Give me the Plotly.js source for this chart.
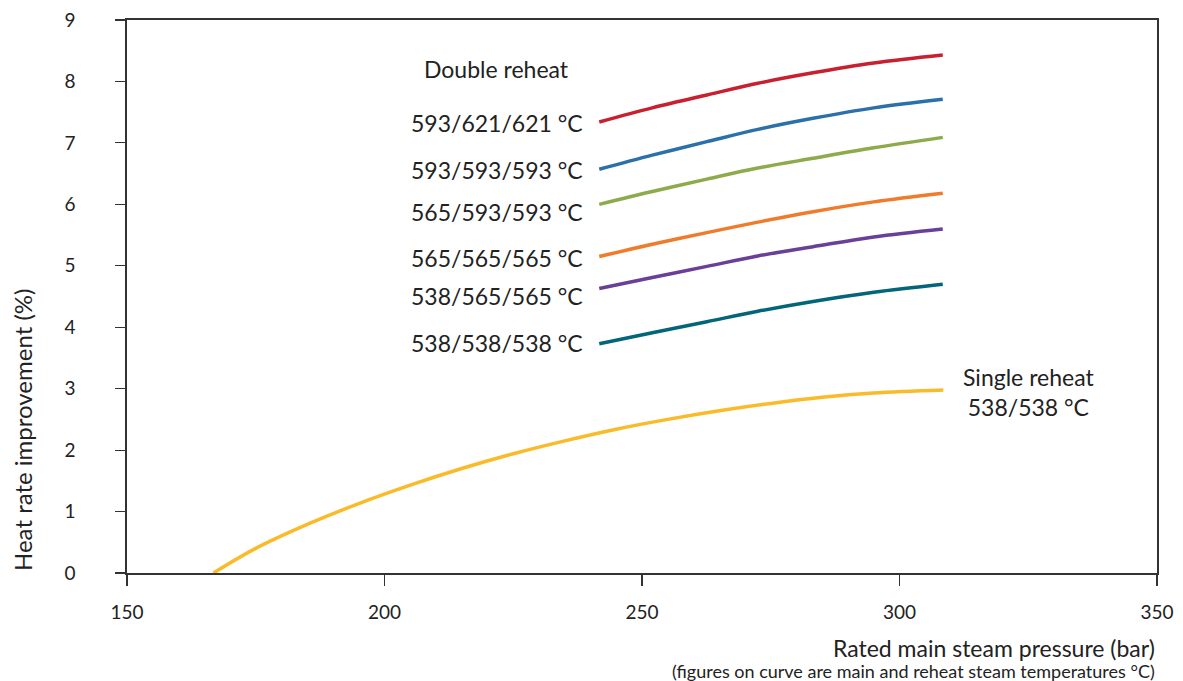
<!DOCTYPE html>
<html><head><meta charset="utf-8">
<script src="https://cdn.plot.ly/plotly-3.0.1.min.js"></script>
<style>html,body{margin:0;padding:0;background:#fff}#chart{width:1183px;height:681px}</style>
</head><body><div id="chart"></div>
<script>
// Data
const pressureDouble = [241.7, 252, 262.6, 272.5, 283.2, 295, 308.4];
const r593_621_621 = [7.34, 7.57, 7.78, 7.97, 8.14, 8.30, 8.43];
const r593_593_593 = [6.57, 6.80, 7.02, 7.22, 7.40, 7.57, 7.71];
const r565_593_593 = [6.00, 6.21, 6.41, 6.59, 6.75, 6.92, 7.09];
const r565_565_565 = [5.15, 5.35, 5.54, 5.71, 5.88, 6.04, 6.18];
const r538_565_565 = [4.63, 4.81, 4.99, 5.16, 5.31, 5.47, 5.60];
const r538_538_538 = [3.73, 3.91, 4.09, 4.26, 4.42, 4.57, 4.70];
const pressureSingle = [166.8, 175, 185, 195, 205, 215, 225, 235, 245, 255, 265, 275, 285, 295, 308.5];
const r538_538 = [0.0, 0.40, 0.79, 1.13, 1.43, 1.70, 1.94, 2.15, 2.34, 2.50, 2.64, 2.76, 2.86, 2.93, 2.98];
const xTicks = [150, 200, 250, 300, 350];
const yTicks = [0,1,2,3,4,5,6,7,8,9];
const doubleLabels = ['593/621/621 °C','593/593/593 °C','565/593/593 °C','565/565/565 °C','538/565/565 °C','538/538/538 °C'];
const labelY = [7.32, 6.56, 5.88, 5.13, 4.51, 3.74];
const doubleSeries = [r593_621_621, r593_593_593, r565_593_593, r565_565_565, r538_565_565, r538_538_538];
const colors = ['#c8202f','#2b70a8','#8dab4b','#f07b2b','#6a3f98','#03657a'];

const FONT = 'Lato, "Noto Sans", sans-serif';
const traces = doubleSeries.map((s,i)=>({
  x: pressureDouble, y: s, mode:'lines', line:{color:colors[i], width:3.5, shape:'spline', smoothing:1}, name: doubleLabels[i]
}));
traces.push({x: pressureSingle, y: r538_538, mode:'lines', line:{color:'#f9bb2a', width:3.5, shape:'spline', smoothing:1}, name:'Single reheat 538/538 °C'});

const annotations = doubleLabels.map((t,i)=>({
  x: pressureDouble[0], y: labelY[i], xref:'x', yref:'y', text: t, showarrow:false,
  xanchor:'right', yanchor:'middle', xshift:-14, font:{family:FONT, size:23, color:'#222'}
}));
annotations.push({x:221.8, y:8.2, xref:'x', yref:'y', text:'Double reheat', showarrow:false, xanchor:'center', yanchor:'middle', font:{family:FONT,size:23,color:'#222'}});
annotations.push({x:325, y:2.94, xref:'x', yref:'y', text:'Single reheat<br>538/538 °C', showarrow:false, xanchor:'center', yanchor:'middle', font:{family:FONT,size:23,color:'#222'}});
annotations.push({x:1, y:0, xref:'paper', yref:'paper', text:'Rated main steam pressure (bar)', showarrow:false, xanchor:'right', yanchor:'middle', yshift:-75, font:{family:FONT,size:23,color:'#222'}});
annotations.push({x:1, y:0, xref:'paper', yref:'paper', text:'(figures on curve are main and reheat steam temperatures °C)', showarrow:false, xanchor:'right', yanchor:'middle', yshift:-98, font:{family:FONT,size:18,color:'#222'}});
annotations.push({x:0, y:0, xref:'paper', yref:'y', text:'Heat rate improvement (%)', textangle:-90, showarrow:false, xanchor:'center', yanchor:'bottom', xshift:-105, font:{family:FONT,size:24,color:'#222'}});

const layout = {
  width:1183, height:681,
  margin:{l:127, r:26, t:20, b:108},
  paper_bgcolor:'#fff', plot_bgcolor:'#fff',
  showlegend:false,
  font:{family:FONT, size:19, color:'#222'},
  xaxis:{range:[150,350], tickvals:xTicks, ticks:'outside', ticklen:11, tickwidth:1.2, tickcolor:'#333',
         showline:true, linecolor:'#333', linewidth:2, mirror:true, showgrid:false, zeroline:false,
         ticklabelstandoff:10, tickfont:{family:FONT,size:19,color:'#222'}},
  yaxis:{range:[0,9], tickvals:yTicks, ticks:'outside', ticklen:10, tickwidth:1.2, tickcolor:'#333',
         showline:true, linecolor:'#333', linewidth:1.6, mirror:true, showgrid:false, zeroline:false,
         ticklabelstandoff:36, tickfont:{family:FONT,size:19,color:'#222'}},
  annotations: annotations
};
Plotly.newPlot('chart', traces, layout, {displayModeBar:false, staticPlot:true});
</script></body></html>
